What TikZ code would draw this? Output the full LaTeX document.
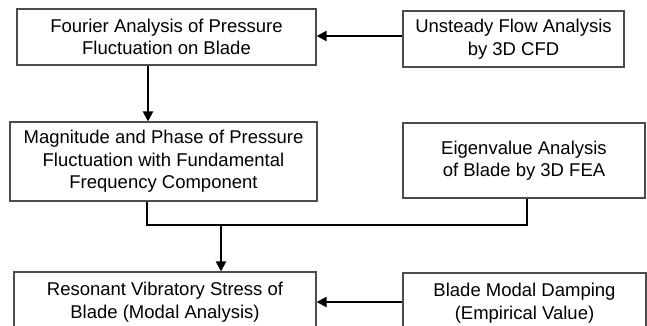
\documentclass[tikz,border=0pt]{standalone}
\usepackage{fontspec}
\setmainfont{Liberation Sans}
\usetikzlibrary{arrows.meta}
\begin{document}
\begin{tikzpicture}[x=1pt,y=1pt,
  box/.style={draw=black!70, line width=1.1pt, fill=white, align=center, inner sep=0pt,
    font=\fontsize{18.5}{22.5}\selectfont},
  conn/.style={line width=2pt, black},
  arr/.style={conn, -{Triangle[length=10pt,width=10pt]}}]
\useasboundingbox (0,0) rectangle (647,-326);
\clip (0,0) rectangle (647,-326);
\node[box, minimum width=299, minimum height=56] (b1) at (166.5,-37) {Fourier Analysis of Pressure\\Fluctuation on Blade};
\node[box, minimum width=221, minimum height=56] (b2) at (513.5,-39) {Unsteady Flow Analysis\\by 3D CFD};
\node[box, minimum width=307, minimum height=79] (b3) at (163.5,-161.5) {Magnitude and Phase of Pressure\\Fluctuation with Fundamental\\Frequency Component};
\node[box, minimum width=242, minimum height=75] (b4) at (524,-160.5) {Eigenvalue Analysis\\of Blade by 3D FEA};
\node[box, minimum width=302, minimum height=60] (b5) at (165,-302) {Resonant Vibratory Stress of\\Blade (Modal Analysis)};
\node[box, minimum width=243, minimum height=60] (b6) at (524.5,-303) {Blade Modal Damping\\(Empirical Value)};
\coordinate (c1) at (148,-36);
\coordinate (j1) at (147,-225);
\coordinate (j2) at (527,-225);
\coordinate (jm) at (221,-225);
\draw[arr] (b2.west |- c1) -- (b1.east |- c1);
\draw[arr] (b1.south -| c1) -- (b3.north -| c1);
\draw[conn] (b3.south -| j1) -- (j1) -- (j2) -- (b4.south -| j2);
\draw[arr] (jm) -- (b5.north -| jm);
\draw[arr] (b6.west |- 0,-302) -- (b5.east |- 0,-302);
\end{tikzpicture}
\end{document}
